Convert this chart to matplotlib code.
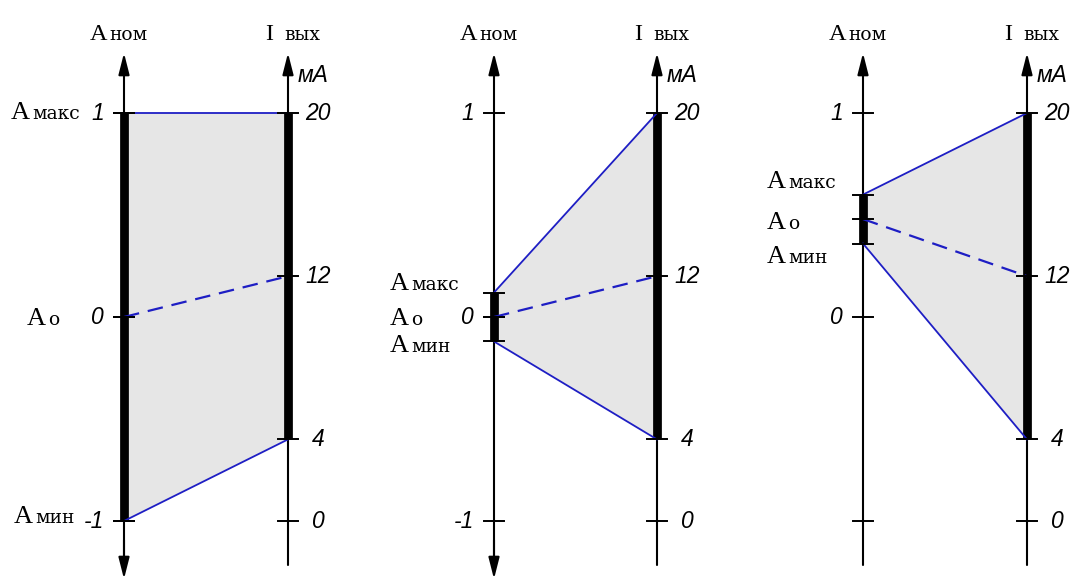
import matplotlib
matplotlib.use("Agg")
import matplotlib.pyplot as plt
from matplotlib.patches import Polygon

# ── данные ──────────────────────────────────────────────────────────────
A_MAX = [1.0, 0.12, 0.60]      # нормированная величина, верх диапазона
A_0 = [0.0, 0.0, 0.48]         # начальная точка
A_MIN = [-1.0, -0.12, 0.36]    # низ диапазона
I_MAX = 20                     # мА
I_0 = 12
I_MIN = 4
A_TICKS = [1, 0, -1]
A_TICK_LABELS = [["1", "0", "-1"], ["1", "0", "-1"], ["1", "0", ""]]
I_TICKS = [20, 12, 4, 0]
I_TICK_LABELS = ["20", "12", "4", "0"]
SUBS = ["макс", "о", "мин"]
# ────────────────────────────────────────────────────────────────────────

# раскладка (пиксели по x, единицы A по y)
X_LEFT = [124, 494, 863]
X_RIGHT = [288, 657, 1027]
LABEL_SPLIT = [[30, 46, 33], [409, 409, 409], [786, 786, 786]]
LABEL_Y = [[0.97, -0.04, -1.01], [0.13, -0.04, -0.17], [0.63, 0.43, 0.265]]
BOTTOM_ARROW = [True, True, False]

BLUE = "#1e1ec4"
GRAY = "#e6e6e6"
PX = 204.0  # пикселей на единицу A


def i_to_a(i):
    # шкала тока: 0 мА на уровне -1, 20 мА на уровне 1
    return -1 + i / 10.0


def py(y):
    # пиксельная координата y -> единицы A
    return (317 - y) / PX


fig = plt.figure(figsize=(10.88, 5.8), dpi=100)
ax = fig.add_axes([0, 0, 1, 1])
ax.set_xlim(0, 1088)
ax.set_ylim(py(580), py(0))
ax.axis("off")

serif = "Liberation Serif"
sans = "Liberation Sans"
arrow = "-|>,head_length=1.3,head_width=0.33"

for k in range(3):
    xl, xr = X_LEFT[k], X_RIGHT[k]
    amax, a0, amin = A_MAX[k], A_0[k], A_MIN[k]

    # серая область
    poly = Polygon([(xl, amax), (xr, i_to_a(I_MAX)), (xr, i_to_a(I_MIN)), (xl, amin)],
                   closed=True, facecolor=GRAY, edgecolor="none", zorder=1)
    ax.add_patch(poly)

    # оси со стрелками
    top = py(53)
    bottom_arrow = py(579)
    bottom_plain = py(565)
    ax.annotate("", xy=(xl, top), xytext=(xl, bottom_plain),
                arrowprops=dict(arrowstyle=arrow, color="black", lw=1.5,
                                mutation_scale=10, shrinkA=0, shrinkB=0), zorder=3)
    if BOTTOM_ARROW[k]:
        ax.annotate("", xy=(xl, bottom_arrow), xytext=(xl, py(540)),
                    arrowprops=dict(arrowstyle=arrow, color="black", lw=1.5,
                                    mutation_scale=10, shrinkA=0, shrinkB=0), zorder=3)
    ax.annotate("", xy=(xr, top), xytext=(xr, bottom_plain),
                arrowprops=dict(arrowstyle=arrow, color="black", lw=1.5,
                                mutation_scale=10, shrinkA=0, shrinkB=0), zorder=3)

    # толстые участки
    ax.plot([xl, xl], [amin, amax], color="black", lw=6.3, solid_capstyle="butt", zorder=4)
    ax.plot([xr, xr], [i_to_a(I_MIN), i_to_a(I_MAX)], color="black", lw=6.3,
            solid_capstyle="butt", zorder=4)

    # линии преобразования
    ax.plot([xl, xr], [amax, i_to_a(I_MAX)], color=BLUE, lw=1.3, zorder=5)
    ax.plot([xl, xr], [amin, i_to_a(I_MIN)], color=BLUE, lw=1.3, zorder=5)
    ax.plot([xl, xr], [a0, i_to_a(I_0)], color=BLUE, lw=1.6, dashes=(7, 4), zorder=5)

    # деления
    for a in A_TICKS + [amax, a0, amin]:
        ax.plot([xl - 10, xl + 10], [a, a], color="black", lw=1.4, zorder=6)
    for i in I_TICKS:
        ax.plot([xr - 10, xr + 10], [i_to_a(i), i_to_a(i)], color="black", lw=1.4, zorder=6)

    # подписи делений
    for a, lab in zip(A_TICKS, A_TICK_LABELS[k]):
        ax.text(xl - 20, a, lab, ha="right", va="center", fontsize=16.5,
                style="italic", family=sans, zorder=7)
    for i, lab in zip(I_TICKS, I_TICK_LABELS):
        ax.text(xr + 30, i_to_a(i), lab, ha="center", va="center", fontsize=16.5,
                style="italic", family=sans, zorder=7)
    ax.text(xr + 10, py(82), "мА", ha="left", va="baseline", fontsize=16.5,
            style="italic", family=sans)

    # заголовки осей
    ax.text(xl - 17, py(40), "A", ha="right", va="baseline", fontsize=17.5, family=serif)
    ax.text(xl - 15, py(40), "ном", ha="left", va="baseline", fontsize=13.5,
            family="DejaVu Serif")
    ax.text(xr - 15, py(40), "I", ha="right", va="baseline", fontsize=17.5, family=serif)
    ax.text(xr - 4, py(40), "вых", ha="left", va="baseline", fontsize=13.5,
            family="DejaVu Serif")

    # подписи Aмакс, Aо, Aмин
    for split, ly, sub in zip(LABEL_SPLIT[k], LABEL_Y[k], SUBS):
        ax.text(split, ly, "A", ha="right", va="baseline", fontsize=19, family=serif)
        ax.text(split + 2, ly, sub, ha="left", va="baseline", fontsize=13.5,
                family="DejaVu Serif")

fig.savefig("out.png", dpi=100, facecolor="white")
